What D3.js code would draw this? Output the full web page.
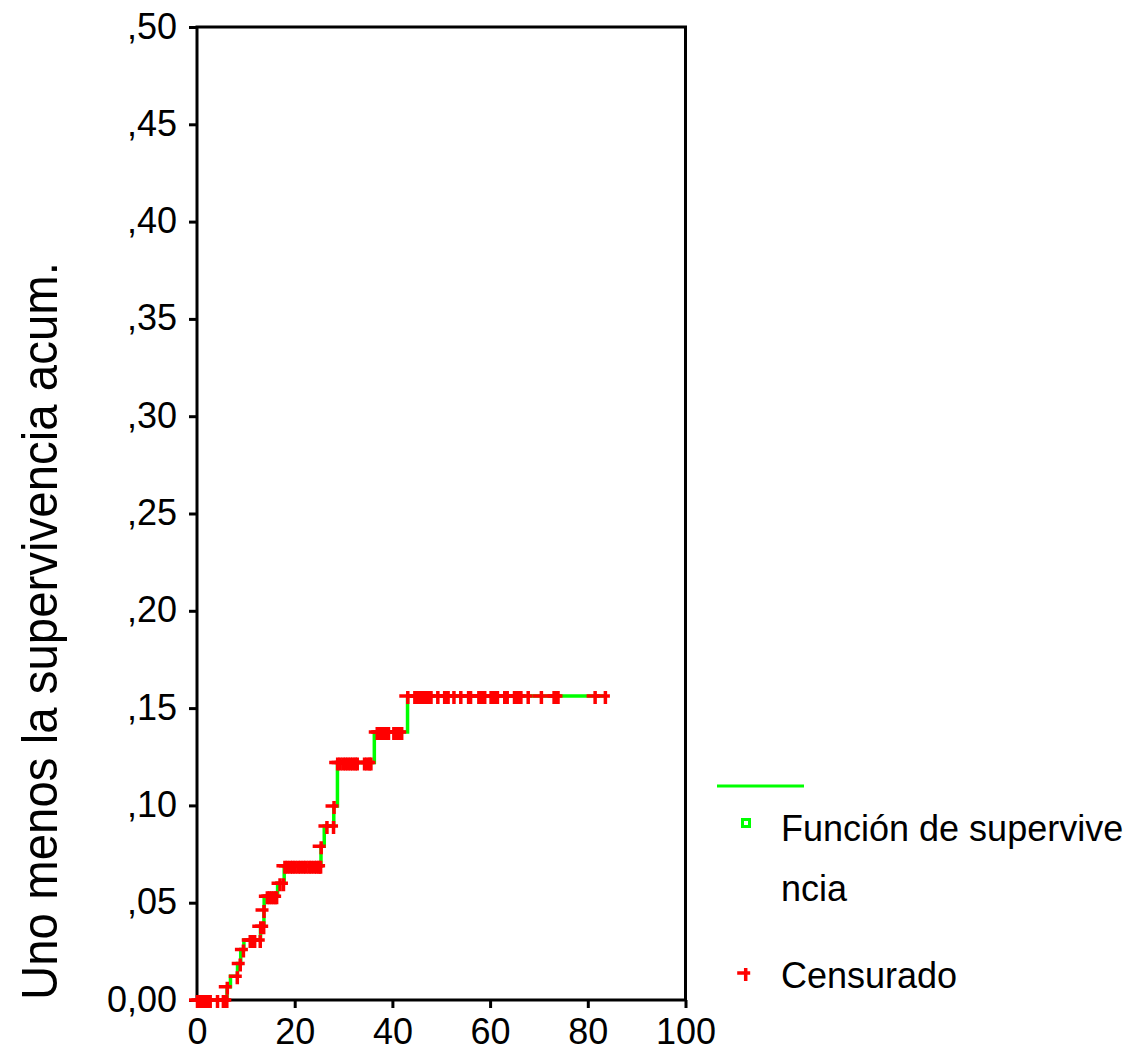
<!DOCTYPE html>
<html>
<head>
<meta charset="utf-8">
<script src="https://cdn.jsdelivr.net/npm/d3@7"></script>
<style>
  html, body { margin: 0; padding: 0; background: #fff; }
  svg { display: block; font-family: "Liberation Sans", Arial, sans-serif; }
</style>
</head>
<body>
<svg id="chart" width="1138" height="1051"></svg>
<script>
// Kaplan-Meier: one minus cumulative survival, with censored cases
const xTickValues = [0, 20, 40, 60, 80, 100];
const xTickLabels = ["0", "20", "40", "60", "80", "100"];
const yTickValues = [0, 0.05, 0.10, 0.15, 0.20, 0.25, 0.30, 0.35, 0.40, 0.45, 0.50];
const yTickLabels = ["0,00", ",05", ",10", ",15", ",20", ",25", ",30", ",35", ",40", ",45", ",50"];

// event times and the cumulative value reached at each event
const eventTimes = [6.15, 6.85, 8.3, 8.95, 9.6, 13.0, 13.7, 13.75, 16.5, 17.85, 25.38, 26.05, 28.0, 28.75, 36.3, 43.1];
const eventLevels = [0.0068, 0.0122, 0.0187, 0.0259, 0.0308, 0.0379, 0.0462, 0.0533, 0.0600, 0.0690, 0.0790, 0.0894, 0.0997, 0.1220, 0.1377, 0.1562];
const lastFollowUp = 83.6;

// censored observation times
const censorTimes = [
  0.1, 0.6, 1.1, 1.5, 2.0, 2.4, 2.7, 4.2, 5.4, 5.75, 6.1,
  6.2, 8.25, 8.85, 9.5,
  10.9, 11.3, 11.8, 12.95, 13.05, 13.65, 13.72,
  14.4, 14.8, 15.2, 15.6, 16.0, 16.3, 17.0, 17.7,
  18.0, 18.5, 19.1, 19.6, 20.1, 20.7, 21.2, 21.8, 22.3, 22.9, 23.4, 24.0, 24.5, 25.0, 25.3,
  25.42, 26.6, 27.95, 28.05,
  28.8, 29.3, 29.9, 30.4, 30.9, 31.4, 31.9, 32.4, 32.8, 34.3, 34.8, 35.3, 35.6,
  36.9, 37.4, 37.9, 38.4, 38.8, 39.2, 40.3, 40.8, 41.3, 41.9,
  43.15, 44.6, 45.1, 45.6, 46.1, 46.6, 47.1, 47.5, 47.9, 49.3, 50.7, 51.1, 51.4, 52.6, 54.0,
  55.6, 56.0, 57.7, 58.2, 58.6, 58.9, 60.2, 60.7, 61.1, 61.5, 63.0, 63.5,
  65.0, 65.5, 65.9, 66.3, 67.8, 70.5, 73.1, 73.5, 73.9, 81.5, 83.6
];

const legendLabels = ["Función de supervive", "ncia", "Censurado"];
const yTitle = "Uno menos la supervivencia acum.";

const svg = d3.select("#chart");
const plot = { left: 197, right: 685.5, top: 27, bottom: 1000 };

const x = d3.scaleLinear().domain([0, 100]).range([plot.left, plot.right]);
const y = d3.scaleLinear().domain([0, 0.5]).range([plot.bottom, plot.top]);

// level of the curve at time t (events at t included)
function levelAt(t) {
  let v = 0;
  eventTimes.forEach((et, i) => { if (et <= t) v = eventLevels[i]; });
  return v;
}

// axes
const yAxis = d3.axisLeft(y).tickValues(yTickValues).tickSize(8).tickSizeOuter(0)
  .tickFormat((d, i) => yTickLabels[i]);
const gy = svg.append("g").attr("transform", `translate(${plot.left},0)`).call(yAxis);
gy.select(".domain").remove();
gy.selectAll(".tick line").attr("stroke", "#000").attr("stroke-width", 3);
gy.selectAll(".tick text").attr("fill", "#000").attr("font-size", 36)
  .attr("font-family", "Liberation Sans, Arial, sans-serif")
  .attr("x", -20).attr("dy", 11).attr("text-anchor", "end");

const xAxis = d3.axisBottom(x).tickValues(xTickValues).tickSize(8).tickSizeOuter(0)
  .tickFormat((d, i) => xTickLabels[i]);
const gx = svg.append("g").attr("transform", `translate(0,${plot.bottom})`).call(xAxis);
gx.select(".domain").remove();
gx.selectAll(".tick line").attr("stroke", "#000").attr("stroke-width", 3);
gx.selectAll(".tick text").attr("fill", "#000").attr("font-size", 36)
  .attr("font-family", "Liberation Sans, Arial, sans-serif")
  .attr("y", 44).attr("dy", 0);

// frame
svg.append("rect")
  .attr("x", plot.left).attr("y", plot.top)
  .attr("width", plot.right - plot.left).attr("height", plot.bottom - plot.top)
  .attr("fill", "none").attr("stroke", "#000").attr("stroke-width", 3);

// step curve
const stepPoints = [[0, 0]].concat(eventTimes.map((t, i) => [t, eventLevels[i]]), [[lastFollowUp, eventLevels[eventLevels.length - 1]]]);
const line = d3.line().x(d => x(d[0])).y(d => y(d[1])).curve(d3.curveStepAfter);
svg.append("path").datum(stepPoints)
  .attr("d", line).attr("fill", "none")
  .attr("stroke", "#00ff00").attr("stroke-width", 3.5);

// censor marker: plus with a longer left arm and lower stem
function plusPath(cx, cy) {
  return `M${cx - 8.5},${cy - 1.75}H${cx + 4.5}V${cy + 1.75}H${cx - 8.5}Z` +
         `M${cx - 1.75},${cy - 5}H${cx + 1.75}V${cy + 8}H${cx - 1.75}Z`;
}
svg.append("g").selectAll("path").data(censorTimes).join("path")
  .attr("d", t => plusPath(x(t), y(levelAt(t))))
  .attr("fill", "#ff0000");

// legend
const lg = svg.append("g");
lg.append("line").attr("x1", 717).attr("x2", 804).attr("y1", 786).attr("y2", 786)
  .attr("stroke", "#00ff00").attr("stroke-width", 3);
lg.append("rect").attr("x", 742.5).attr("y", 819.5).attr("width", 7).attr("height", 7)
  .attr("fill", "#fff").attr("stroke", "#00ff00").attr("stroke-width", 3);
lg.append("path").attr("d", plusPath(745.7, 973)).attr("fill", "#ff0000");
const legendY = [841, 901, 988];
lg.selectAll("text").data(legendLabels).join("text")
  .attr("x", 781).attr("y", (d, i) => legendY[i])
  .attr("font-size", 36).attr("fill", "#000").text(d => d);

// y-axis title
svg.append("text")
  .attr("transform", "translate(57,631) rotate(-90)")
  .attr("text-anchor", "middle").attr("font-size", 50)
  .attr("textLength", 738).attr("lengthAdjust", "spacingAndGlyphs")
  .attr("fill", "#000").text(yTitle);
</script>
</body>
</html>
